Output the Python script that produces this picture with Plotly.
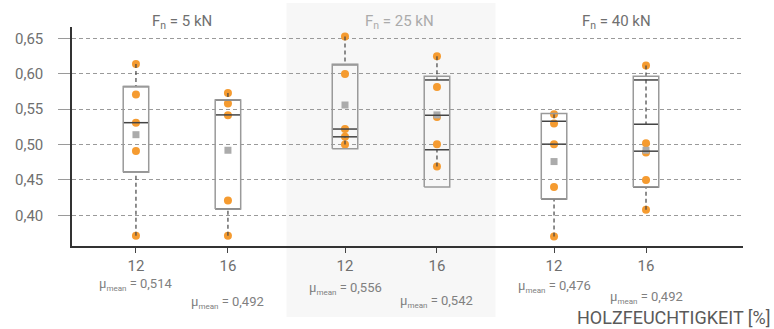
import plotly.graph_objects as go

# ---------------- data ----------------
groups = ["5 kN", "25 kN", "40 kN"]
moistures = ["12", "16"]

# measured values per box (order: 5kN-12, 5kN-16, 25kN-12, 25kN-16, 40kN-12, 40kN-16)
points = [
    [0.614, 0.571, 0.531, 0.491, 0.371],
    [0.573, 0.558, 0.5415, 0.421, 0.371],
    [0.653, 0.600, 0.522, 0.511, 0.500],
    [0.625, 0.5815, 0.539, 0.5006, 0.469],
    [0.543, 0.530, 0.5006, 0.440, 0.370],
    [0.612, 0.502, 0.489, 0.450, 0.408],
]
means = [0.514, 0.492, 0.556, 0.542, 0.476, 0.492]
q1 = [0.461, 0.409, 0.511, 0.4927, 0.423, 0.4398]
median = [0.531, 0.542, 0.522, 0.5415, 0.5006, 0.4907]
q3 = [0.582, 0.563, 0.613, 0.5914, 0.533, 0.5288]
outer_lo = [0.461, 0.409, 0.494, 0.440, 0.423, 0.440]
outer_hi = [0.582, 0.563, 0.6136, 0.5966, 0.5438, 0.5966]
extra_line = [None, None, None, None, None, 0.5914]

# ---------------- layout helpers ----------------
OFF = 0.22
HW = 0.061
X0, X1 = -0.526, 2.684
Y0, Y1 = 0.3566, 0.6663
ORANGE = "#F59B30"
DARK = "#444444"
GREY = "#9a9a9a"

pos = []
labels = []
for g in range(len(groups)):
    for m in range(len(moistures)):
        pos.append(g + (-OFF if m == 0 else OFF))
        labels.append(moistures[m])


def xp(v):
    return (v - X0) / (X1 - X0)


fig = go.Figure()

# points
px_, py_ = [], []
for p, vals in zip(pos, points):
    px_ += [p] * len(vals)
    py_ += vals
fig.add_trace(go.Scatter(x=px_, y=py_, mode="markers",
                         marker=dict(color=ORANGE, size=8, line=dict(width=0)),
                         hoverinfo="skip"))

# mean markers
fig.add_trace(go.Scatter(x=pos, y=means, mode="markers",
                         marker=dict(color="#ababab", size=7, symbol="square", line=dict(width=0)),
                         hoverinfo="skip"))

# whiskers (dashed)
wx, wy = [], []
for p, vals, a, b in zip(pos, points, q1, q3):
    wx += [p, p, None, p, p, None]
    wy += [max(vals), b, None, min(vals), a, None]
fig.add_trace(go.Scatter(x=wx, y=wy, mode="lines",
                         line=dict(color=DARK, width=1.2, dash="4px,3px"),
                         hoverinfo="skip"))

# dark lines (quartiles, median)
lx, ly = [], []
for i, p in enumerate(pos):
    for v in (q1[i], median[i], q3[i], extra_line[i]):
        if v is None:
            continue
        lx += [p - HW, p + HW, None]
        ly += [v, v, None]
fig.add_trace(go.Scatter(x=lx, y=ly, mode="lines",
                         line=dict(color=DARK, width=1.5), hoverinfo="skip"))

# grey box outlines
bx, by = [], []
for p, lo, hi in zip(pos, outer_lo, outer_hi):
    bx += [p - HW, p + HW, p + HW, p - HW, p - HW, None]
    by += [lo, lo, hi, hi, lo, None]
fig.add_trace(go.Scatter(x=bx, y=by, mode="lines",
                         line=dict(color=GREY, width=1.5), hoverinfo="skip"))

# shaded middle group
PLOT_T, PLOT_B = 27, 246
PH = PLOT_B - PLOT_T


def yp(py):
    return (PLOT_B - py) / PH


fig.add_shape(type="rect", xref="paper", yref="paper",
              x0=xp(0.5), x1=xp(1.5), y0=yp(317), y1=yp(3),
              fillcolor="#F7F7F7", line=dict(width=0), layer="below")

# group titles
title_x = [0.0, 1.04, 2.08]
title_col = ["#707070", "#ababab", "#707070"]
for g, tx, c in zip(groups, title_x, title_col):
    fig.add_annotation(x=tx, xref="x", y=yp(22), yref="paper",
                       text="F<sub>n</sub> = " + g, showarrow=False,
                       font=dict(family="Roboto", size=15, color=c),
                       xanchor="center", yanchor="middle")

# mean annotations
mean_y = [284, 302, 288, 301, 286, 297]
for p, m, my in zip(pos, means, mean_y):
    txt = "μ<sub><span style='font-size:8px'>mean</span></sub> = " + f"{m:.3f}".replace(".", ",")
    fig.add_annotation(x=p, xref="x", y=yp(my), yref="paper", text=txt,
                       showarrow=False, font=dict(family="Roboto", size=13, color="#808080"),
                       xanchor="center", yanchor="middle", borderpad=0)

# axis title
fig.add_annotation(x=(772 - 72) / 671, xref="paper", y=yp(328.5), yref="paper",
                   text="HOLZFEUCHTIGKEIT [%]", showarrow=False,
                   font=dict(family="Roboto", size=18, color="#5a5a5a"),
                   xanchor="right", yanchor="bottom", borderpad=0)

fig.update_layout(
    width=774, height=329,
    margin=dict(l=72, r=31, t=PLOT_T, b=329 - PLOT_B, pad=0),
    paper_bgcolor="white", plot_bgcolor="rgba(0,0,0,0)",
    showlegend=False, separators=", ",
    font=dict(family="Roboto"),
)
fig.update_xaxes(range=[X0, X1], tickvals=pos, ticktext=labels,
                 showgrid=False, zeroline=False, showline=True, linecolor="#333333", linewidth=1.5,
                 ticks="outside", ticklen=5, tickcolor="#444444", tickwidth=1,
                 tickfont=dict(family="Roboto", size=15, color="#6f6f6f"))
fig.update_yaxes(range=[Y0, Y1], tickvals=[0.40, 0.45, 0.50, 0.55, 0.60, 0.65], tickformat=".2f",
                 showgrid=True, gridcolor="#9a9a9a", gridwidth=1, griddash="4px,3px",
                 zeroline=False, showline=True, linecolor="#333333", linewidth=1.5,
                 ticks="outside", ticklen=12, tickcolor="#9a9a9a", tickwidth=1,
                 ticklabelstandoff=12,
                 tickfont=dict(family="Roboto", size=15, color="#6f6f6f"))

fig.write_html("out.html", config={"displayModeBar": False},
               post_script="document.body.style.margin='0';document.body.style.overflow='hidden';")
